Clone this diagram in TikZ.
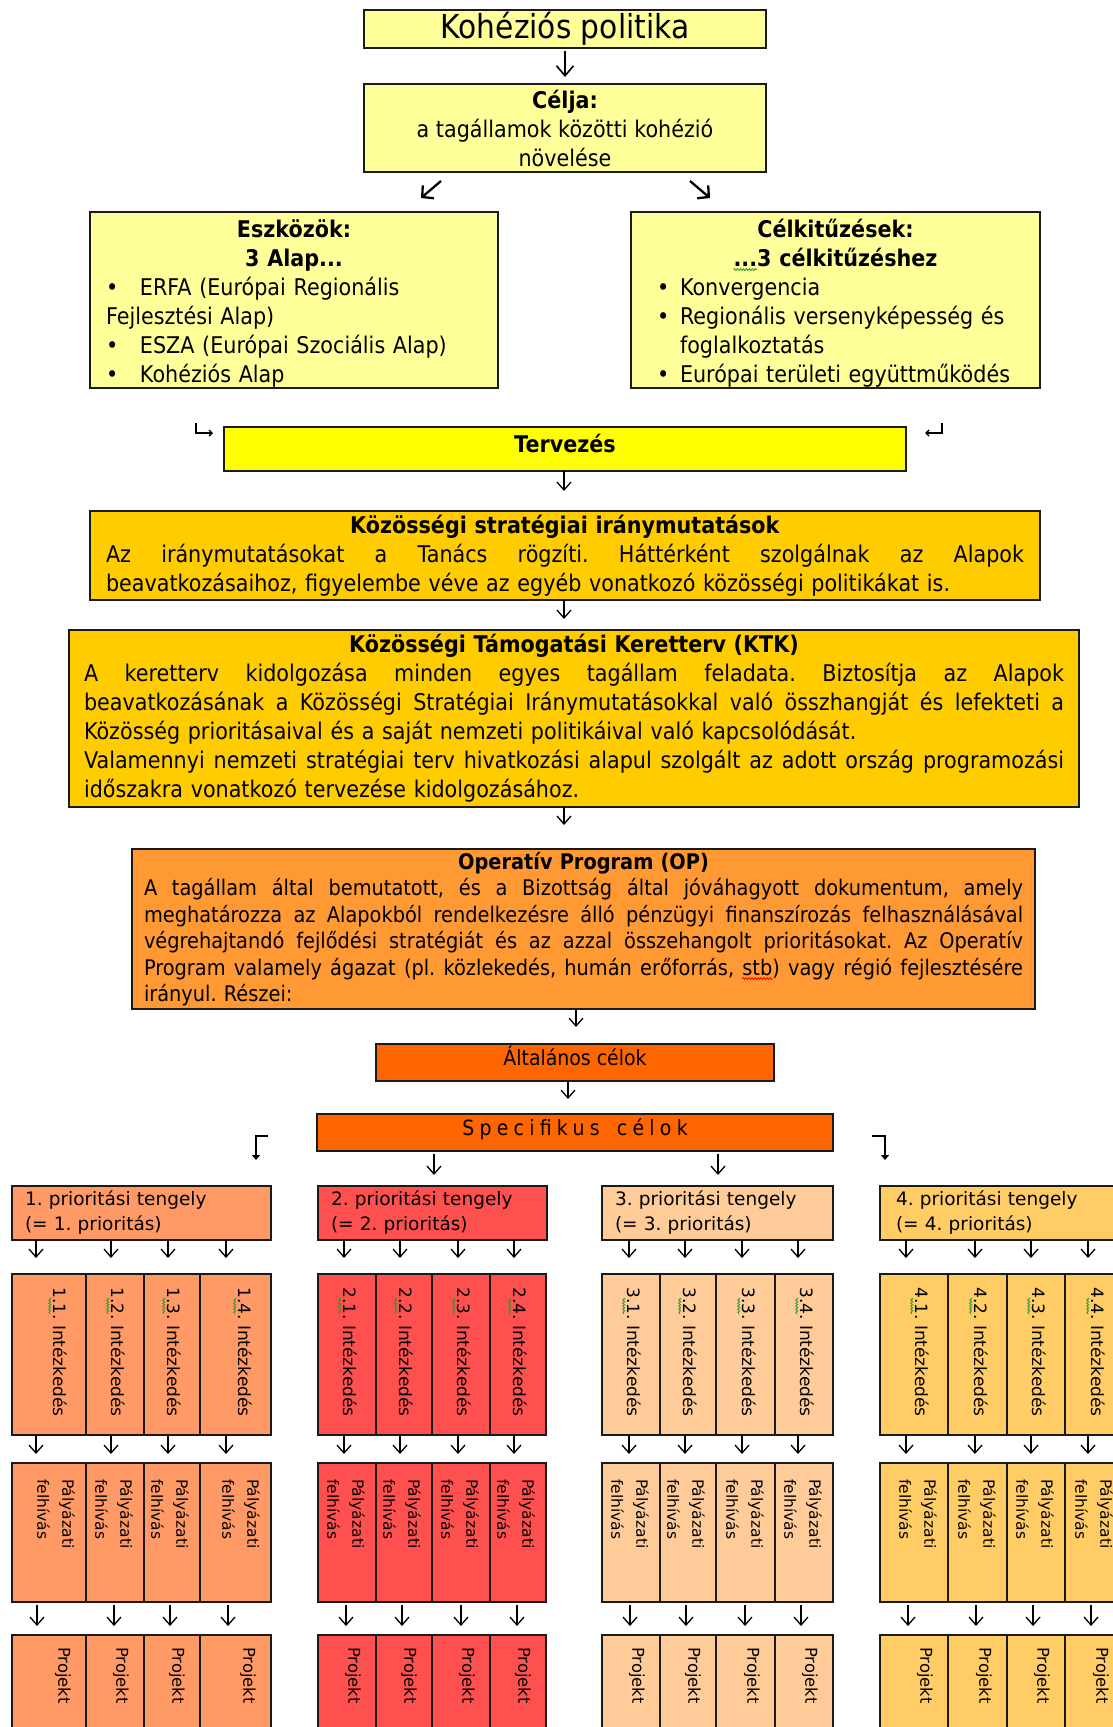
\documentclass[tikz,border=0pt]{standalone}
\usepackage{fontspec}
\setmainfont{DejaVu Sans}[FakeStretch=0.9]
\newfontfamily\vfont{DejaVu Sans}
\usetikzlibrary{arrows.meta,calc,decorations.pathmorphing}
\definecolor{lyel}{HTML}{FFFF99}
\definecolor{yel}{HTML}{FFFF00}
\definecolor{gold}{HTML}{FFCC00}
\definecolor{opc}{HTML}{FF9933}
\definecolor{orc}{HTML}{FF6600}
\definecolor{pa}{HTML}{FF9966}
\definecolor{pb}{HTML}{FF5050}
\definecolor{pc}{HTML}{FFCC99}
\definecolor{pd}{HTML}{FFCC66}
\definecolor{bord}{HTML}{1A1A1A}
\definecolor{spg}{HTML}{2E9A2E}
\definecolor{spr}{HTML}{FF0000}
\newlength\wvlen
\newcommand\wv[2]{\settowidth\wvlen{#2}\leavevmode\rlap{\tikz[overlay,baseline=0pt,x=1pt,y=1pt]\draw[#1,line width=0.8pt,decorate,decoration={zigzag,amplitude=1pt,segment length=3pt}] (0,-3.5) -- (\wvlen,-3.5);}#2}
\newcommand\mainf{\fontsize{23bp}{29bp}\selectfont}
\newcommand\opf{\fontsize{21.5bp}{26.5bp}\selectfont}
\newcommand\jl[2]{\leavevmode\hbox to #1{\spaceskip=\fontdimen2\font plus 1fil\relax\xspaceskip=\spaceskip #2}}
\newcommand\lfl[2]{\leavevmode\hbox to #1{#2\hfil}}
\newcommand\bul[2]{\makebox[#1][l]{\hspace*{#2}•}}
\newcommand\grp[7]{%
 \foreach \c/\xa/\xb in {1/#3/#4,2/#4/#5,3/#5/#6,4/#6/#7}{%
  \node[cell, fill=#2, minimum width={(\xb-\xa)*1bp}, minimum height=161bp] (I#1\c) at (\xa,1274) {};
  \node[cell, fill=#2, minimum width={(\xb-\xa)*1bp}, minimum height=139bp] (A#1\c) at (\xa,1463) {};
  \node[cell, fill=#2, minimum width={(\xb-\xa)*1bp}, minimum height=130bp] (J#1\c) at (\xa,1635) {};
  \node[vta] at ($(I#1\c.north east)+(-19,13)$) {#1\wv{spg}{.\c}. Intézkedés};
  \node[vtb] at ($(A#1\c.north east)+(-11,16)$) {Pályázati\\felhívás};
  \node[vtc] at ($(J#1\c.north east)+(-15,12)$) {Projekt};
 }}
\begin{document}
\frenchspacing
\begin{tikzpicture}[x=1bp,y=-1bp,
  bx/.style={draw=bord, line width=1.5bp, inner sep=0pt, outer sep=0pt, anchor=north west},
  cell/.style={bx},
  arr/.style={draw=black, line width=1.3bp, -{Straight Barb[length=8bp,width=14bp]}},
  arrk/.style={draw=black, line width=1.6bp, -{Straight Barb[length=10bp,width=17bp]}},
  darr/.style={draw=black, line width=2.3bp, -{Straight Barb[length=8bp,width=17bp]}},
  sarr/.style={draw=black, line width=1.4bp, -{Straight Barb[length=3bp,width=6bp]}},
  farr/.style={draw=black, line width=1.3bp, -{Triangle[length=5bp,width=8bp]}},
  vta/.style={font=\vfont\fontsize{17bp}{20bp}\selectfont, inner sep=0pt, rotate=-90, anchor=north west},
  vtb/.style={font=\vfont\fontsize{15.5bp}{25bp}\selectfont, inner sep=0pt, rotate=-90, anchor=north west, align=left},
  vtc/.style={font=\vfont\fontsize{16.3bp}{20bp}\selectfont, inner sep=0pt, rotate=-90, anchor=north west},
  prio/.style={bx, minimum height=54bp, inner xsep=13bp, align=left, font=\vfont\fontsize{18.5bp}{25bp}\selectfont},
  oneline/.style={text height=0.95em, text depth=0.3em},
]
\useasboundingbox[fill=white] (0,0) rectangle (1112,1727);

% top boxes
\node[bx, fill=lyel, minimum width=402bp, minimum height=38bp, font=\fontsize{33bp}{36bp}\selectfont] (koh) at (364,10) {Kohéziós politika};
\node[bx, fill=lyel, minimum width=402bp, minimum height=88bp, align=center, font=\mainf] (celja) at (364,84) {\textbf{Célja:}\\a tagállamok közötti kohézió\\növelése};
\node[bx, fill=lyel, minimum width=408bp, minimum height=176bp, text width=376bp, inner xsep=16bp, align=left, font=\mainf] (eszk) at (90,212) {%
\rule{0pt}{24bp}\makebox[376bp]{\bfseries Eszközök:}\\
\makebox[376bp]{\bfseries 3 Alap...}\\
\bul{34bp}{0bp}ERFA (Európai Regionális\\
Fejlesztési Alap)\\
\bul{34bp}{0bp}ESZA (Európai Szociális Alap)\\
\bul{34bp}{0bp}Kohéziós Alap};
\node[bx, fill=lyel, minimum width=409bp, minimum height=176bp, text width=377bp, inner xsep=16bp, align=left, font=\mainf] (celk) at (631,212) {%
\rule{0pt}{24bp}\makebox[377bp]{\bfseries Célkitűzések:}\\
\makebox[377bp]{\bfseries \wv{spg}{...}3 célkitűzéshez}\\
\bul{33bp}{10bp}Konvergencia\\
\bul{33bp}{10bp}Regionális versenyképesség és\\
\hspace*{33bp}foglalkoztatás\\
\bul{33bp}{10bp}Európai területi együttműködés};

\node[bx, oneline, fill=yel, minimum width=682bp, minimum height=44bp, font=\mainf\bfseries] (terv) at (224,427) {Tervezés};

\node[bx, fill=gold, minimum width=950bp, minimum height=89bp, text width=918bp, inner xsep=16bp, align=center, font=\mainf] (ksi) at (90,511) {%
\textbf{Közösségi stratégiai iránymutatások}\\
\jl{918bp}{Az iránymutatásokat a Tanács rögzíti. Háttérként szolgálnak az Alapok}\\
\lfl{918bp}{beavatkozásaihoz, figyelembe véve az egyéb vonatkozó közösségi politikákat is.}};

\node[bx, fill=gold, minimum width=1010bp, minimum height=177bp, text width=980bp, inner xsep=15bp, align=center, font=\mainf] (ktk) at (69,630) {%
\textbf{Közösségi Támogatási Keretterv (KTK)}\\
\jl{980bp}{A keretterv kidolgozása minden egyes tagállam feladata. Biztosítja az Alapok}\\
\jl{980bp}{beavatkozásának a Közösségi Stratégiai Iránymutatásokkal való összhangját és lefekteti a}\\
\lfl{980bp}{Közösség prioritásaival és a saját nemzeti politikáival való kapcsolódását.}\\
\jl{980bp}{Valamennyi nemzeti stratégiai terv hivatkozási alapul szolgált az adott ország programozási}\\
\lfl{980bp}{időszakra vonatkozó tervezése kidolgozásához.}};

\node[bx, fill=opc, minimum width=903bp, minimum height=160bp, text width=879bp, inner xsep=12bp, align=center, font=\opf] (op) at (132,849) {%
\textbf{Operatív Program (OP)}\\
\jl{879bp}{A tagállam által bemutatott, és a Bizottság által jóváhagyott dokumentum, amely}\\
\jl{879bp}{meghatározza az Alapokból rendelkezésre álló pénzügyi finanszírozás felhasználásával}\\
\jl{879bp}{végrehajtandó fejlődési stratégiát és az azzal összehangolt prioritásokat. Az Operatív}\\
\jl{879bp}{Program valamely ágazat (pl. közlekedés, humán erőforrás, \wv{spr}{stb}) vagy régió fejlesztésére}\\
\lfl{879bp}{irányul. Részei:}};

\node[bx, oneline, fill=orc, minimum width=398bp, minimum height=37bp, font=\fontsize{21bp}{24bp}\selectfont] (alt) at (376,1044) {Általános célok};
\node[bx, oneline, fill=orc, minimum width=516bp, minimum height=37bp, font=\fontsize{21bp}{24bp}\selectfont\addfontfeature{LetterSpace=25}] (spec) at (317,1114) {Specifikus\hspace{6bp} célok};

% priority boxes
\node[prio, fill=pa, text width=233bp] (PR1) at (12,1186) {1. prioritási tengely\\(= 1. prioritás)};
\node[prio, fill=pb, text width=203bp] (PR2) at (318,1186) {2. prioritási tengely\\(= 2. prioritás)};
\node[prio, fill=pc, text width=205bp] (PR3) at (602,1186) {3. prioritási tengely\\(= 3. prioritás)};
\node[prio, fill=pd, text width=218bp, inner xsep=16bp] (PR4) at (880,1186) {4. prioritási tengely\\(= 4. prioritás)};

% columns
\grp{1}{pa}{12}{86}{144}{200}{271}
\grp{2}{pb}{318}{376}{432}{490}{546}
\grp{3}{pc}{602}{660}{716}{775}{833}
\grp{4}{pd}{880}{948}{1007}{1065}{1124}

% main arrows
\draw[arrk, shorten <=3bp, shorten >=7bp] (565,0 |- koh.south) -- (565,0 |- celja.north);
\coordinate (dla) at (441,181); \coordinate (dlb) at (421,198);
\coordinate (dra) at (690,181); \coordinate (drb) at (710,198);
\draw[darr] (dla) -- (dlb);
\draw[darr] (dra) -- (drb);
\coordinate (tla) at (196,423); \coordinate (tra) at (942,423);
\draw[sarr] (tla) |- ($(terv.north west)+(-11,6)$);
\draw[sarr] (tra) |- ($(terv.north east)+(19,6)$);
\draw[arr, shorten >=20bp] (564,0 |- terv.south) -- (564,0 |- ksi.north);
\draw[arr, shorten >=11bp] (564,0 |- ksi.south) -- (564,0 |- ktk.north);
\draw[arr, shorten >=24bp] (564,0 |- ktk.south) -- (564,0 |- op.north);
\draw[arr, shorten >=17bp] (576,0 |- op.south) -- (576,0 |- alt.north);
\draw[arr, shorten >=15bp] (568,0 |- alt.south) -- (568,0 |- spec.north);
\draw[arr, shorten <=3bp, shorten >=11bp] (434,0 |- spec.south) -- (434,0 |- PR2.north);
\draw[arr, shorten <=3bp, shorten >=11bp] (718,0 |- spec.south) -- (718,0 |- PR3.north);
\coordinate (sla) at (268,1136); \coordinate (sra) at (872,1136);
\draw[farr] (sla) -- (256,1136) -- (256,1160);
\draw[farr] (sra) -- (885,1136) -- (885,1160);

% column arrows
\foreach \x [count=\i] in {36,111,168,226}{\draw[arr, shorten >=16bp] (\x,0 |- PR1.south) -- (\x,0 |- I1\i.north);}
\foreach \x [count=\i] in {344,400,458,514}{\draw[arr, shorten >=16bp] (\x,0 |- PR2.south) -- (\x,0 |- I2\i.north);}
\foreach \x [count=\i] in {629,685,742,798}{\draw[arr, shorten >=16bp] (\x,0 |- PR3.south) -- (\x,0 |- I3\i.north);}
\foreach \x [count=\i] in {906,975,1031,1088}{\draw[arr, shorten >=16bp] (\x,0 |- PR4.south) -- (\x,0 |- I4\i.north);}
\foreach \x [count=\i] in {36,111,168,226}{\draw[arr, shorten <=1bp, shorten >=9bp] (\x,0 |- I1\i.south) -- (\x,0 |- A1\i.north);}
\foreach \x [count=\i] in {344,400,458,514}{\draw[arr, shorten <=1bp, shorten >=9bp] (\x,0 |- I2\i.south) -- (\x,0 |- A2\i.north);}
\foreach \x [count=\i] in {629,685,742,798}{\draw[arr, shorten <=1bp, shorten >=9bp] (\x,0 |- I3\i.south) -- (\x,0 |- A3\i.north);}
\foreach \x [count=\i] in {906,975,1031,1088}{\draw[arr, shorten <=1bp, shorten >=9bp] (\x,0 |- I4\i.south) -- (\x,0 |- A4\i.north);}
\foreach \x [count=\i] in {37,114,170,228}{\draw[arr, shorten <=3bp, shorten >=9bp] (\x,0 |- A1\i.south) -- (\x,0 |- J1\i.north);}
\foreach \x [count=\i] in {346,402,461,517}{\draw[arr, shorten <=3bp, shorten >=9bp] (\x,0 |- A2\i.south) -- (\x,0 |- J2\i.north);}
\foreach \x [count=\i] in {630,686,745,801}{\draw[arr, shorten <=3bp, shorten >=9bp] (\x,0 |- A3\i.south) -- (\x,0 |- J3\i.north);}
\foreach \x [count=\i] in {908,976,1033,1091}{\draw[arr, shorten <=3bp, shorten >=9bp] (\x,0 |- A4\i.south) -- (\x,0 |- J4\i.north);}
\end{tikzpicture}
\end{document}
